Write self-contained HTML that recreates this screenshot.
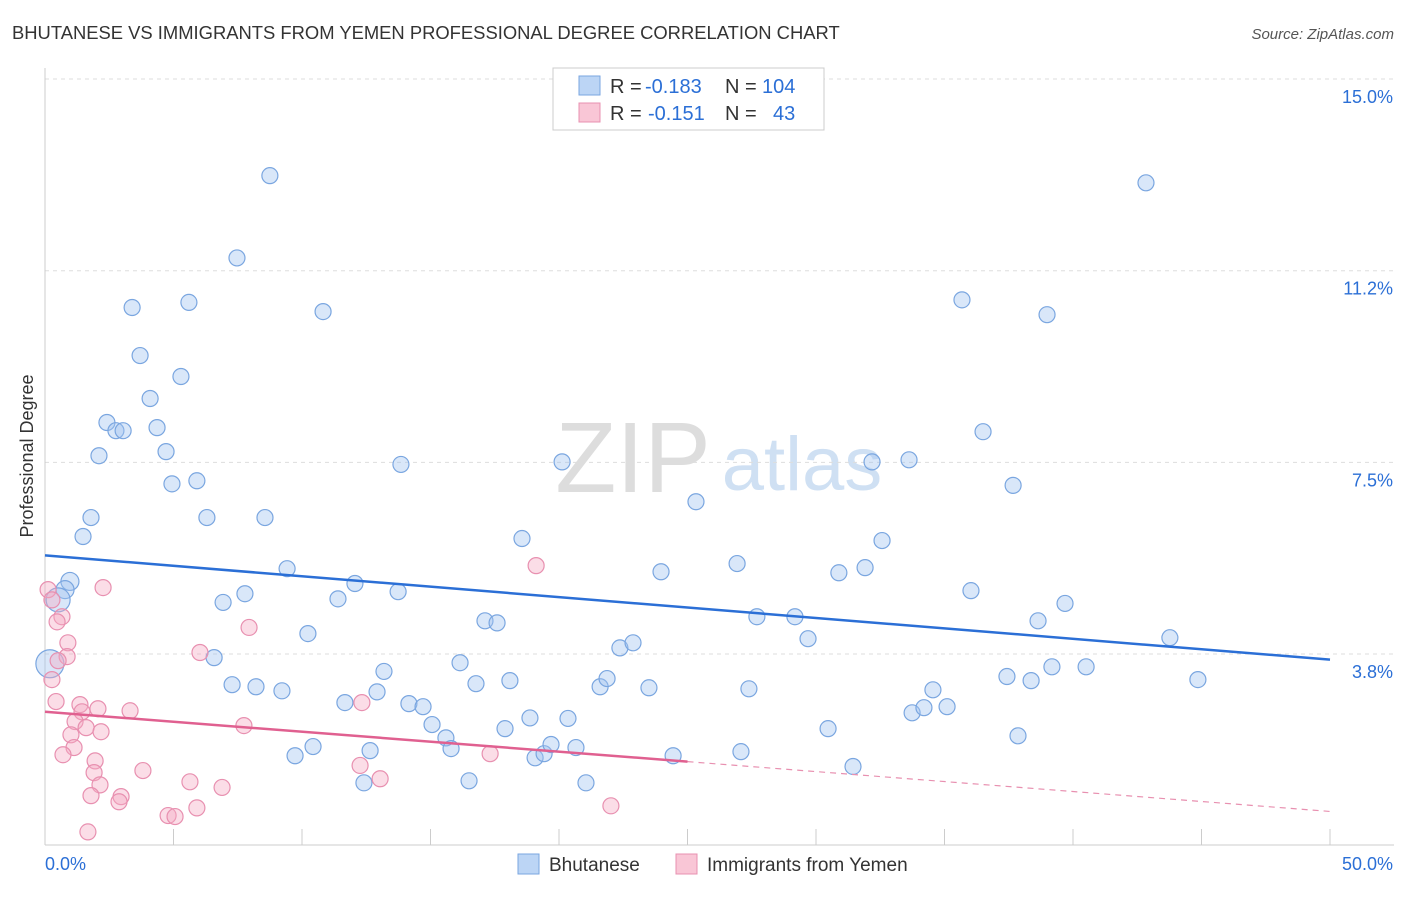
<!DOCTYPE html>
<html><head><meta charset="utf-8"><style>
body{margin:0;background:#fff;font-family:"Liberation Sans",sans-serif}
svg text{font-family:"Liberation Sans",sans-serif}
</style></head><body>
<svg id="c" width="1406" height="892" xmlns="http://www.w3.org/2000/svg">
<text x="12" y="39" font-size="18.4" fill="#333">BHUTANESE VS IMMIGRANTS FROM YEMEN PROFESSIONAL DEGREE CORRELATION CHART</text>
<text x="1394" y="39" font-size="15" fill="#555" text-anchor="end" font-style="italic">Source: ZipAtlas.com</text>
<g><text x="633" y="492" font-size="100" fill="#ddd" font-family="Liberation Serif" text-anchor="middle">ZIP</text><text x="802" y="490" font-size="76" fill="#cfe0f3" text-anchor="middle">atlas</text></g>
<g id="grid"></g><g id="axes"></g><g id="pts"></g><g id="trend"></g>
<text transform="translate(33,456) rotate(-90)" font-size="18" fill="#333" text-anchor="middle">Professional Degree</text>
<g>
<rect x="553" y="68" width="271" height="62" fill="#fff" stroke="#ccc"/>
<rect x="579" y="76" width="21" height="19" fill="#bcd5f5" stroke="#7aa6e0"/>
<rect x="579" y="103" width="21" height="19" fill="#f9c6d6" stroke="#e890b0"/>
<text x="610" y="93" font-size="20" fill="#333">R =</text>
<text x="645" y="93" font-size="20" fill="#2b6fd6">-0.183</text>
<text x="725" y="93" font-size="20" fill="#333">N =</text>
<text x="762" y="93" font-size="20" fill="#2b6fd6">104</text>
<text x="610" y="120" font-size="20" fill="#333">R =</text>
<text x="648" y="120" font-size="20" fill="#2b6fd6">-0.151</text>
<text x="725" y="120" font-size="20" fill="#333">N =</text>
<text x="773" y="120" font-size="20" fill="#2b6fd6">43</text>
</g>
<g>
<rect x="518" y="854" width="21" height="20" fill="#bcd5f5" stroke="#7aa6e0"/><text x="549" y="871" font-size="19" fill="#333">Bhutanese</text>
<rect x="676" y="854" width="21" height="20" fill="#f9c6d6" stroke="#e890b0"/><text x="707" y="871" font-size="19" fill="#333">Immigrants from Yemen</text>
</g>
</svg>
<script>
const yTicks=[15.0,11.25,7.5,3.75];
const yTickLabels=["15.0%","11.2%","7.5%","3.8%"];
const xTicks=[0,5,10,15,20,25,30,35,40,45,50];
const blueX=[8.75,7.47,3.39,5.60,10.82,3.70,5.29,4.09,2.41,2.76,3.04,4.36,2.10,4.71,4.94,5.91,1.79,1.48,6.30,8.56,13.85,20.12,9.42,7.78,6.93,12.06,11.40,13.74,10.23,6.58,7.28,8.21,9.22,9.73,10.43,11.67,12.92,13.19,12.65,12.41,14.16,14.71,15.06,15.60,15.80,16.15,16.77,16.50,17.12,17.59,18.09,17.90,18.87,19.07,19.42,19.69,20.35,20.66,21.05,18.56,21.60,21.87,22.37,22.88,23.50,23.97,24.44,25.33,26.93,27.08,27.39,27.70,29.18,29.69,30.47,30.89,31.44,31.91,32.18,32.57,33.62,33.74,34.20,34.55,35.10,35.68,36.03,36.50,37.43,37.67,37.86,38.37,38.64,38.99,39.18,39.69,40.51,42.84,43.77,44.86,0.97,0.78,0.51,0.19];
const blueY=[13.11,11.50,10.53,10.63,10.45,9.59,9.18,8.75,8.28,8.12,8.12,8.18,7.63,7.71,7.08,7.14,6.42,6.05,6.42,6.42,7.46,7.51,5.42,4.93,4.76,5.13,4.83,4.97,4.15,3.68,3.15,3.11,3.03,1.76,1.94,2.80,3.01,3.41,1.86,1.23,2.78,2.72,2.37,2.11,1.90,3.58,3.17,1.27,4.40,4.36,3.23,2.29,2.50,1.72,1.80,1.98,2.49,1.92,1.23,6.01,3.11,3.27,3.87,3.97,3.09,5.36,1.76,6.73,5.52,1.84,3.07,4.48,4.48,4.05,2.29,5.34,1.55,5.44,7.51,5.97,7.55,2.60,2.70,3.05,2.72,10.68,4.99,8.10,3.31,7.05,2.15,3.23,4.40,10.39,3.50,4.74,3.50,12.97,4.07,3.25,5.17,5.01,4.81,3.56];
const pinkX=[0.12,0.27,0.66,0.47,0.89,0.86,0.51,0.27,0.43,1.36,1.44,2.06,1.17,1.60,1.01,2.18,1.13,0.70,1.95,1.91,2.14,1.79,2.96,2.88,1.67,2.26,3.31,3.81,5.64,6.89,5.91,4.79,5.06,6.03,7.94,7.74,12.33,12.26,13.04,17.32,19.11,22.02];
const pinkY=[5.01,4.81,4.48,4.38,3.97,3.70,3.62,3.25,2.82,2.76,2.62,2.68,2.43,2.31,2.17,2.23,1.92,1.78,1.66,1.43,1.19,0.98,0.96,0.86,0.27,5.05,2.64,1.47,1.25,1.14,0.74,0.59,0.57,3.78,4.27,2.35,2.80,1.57,1.31,1.80,5.48,0.78];
const blueTrend=[5.68,3.64];
const pinkTrend=[2.62,0.67];
const pinkSolidEnd=25;
const NS="http://www.w3.org/2000/svg";
const X=v=>45+v*25.7, Y=v=>845.7-v*51.11;
function mk(p,t,a){const e=document.createElementNS(NS,t);for(const k in a)e.setAttribute(k,a[k]);document.getElementById(p).appendChild(e);return e;}
yTicks.forEach((t,i)=>{
 const g=mk('grid','line',{x1:45,x2:1394,y1:Y(t),y2:Y(t),stroke:'#ddd','stroke-dasharray':'4,4'});
 
 
 const l=mk('axes','text',{x:1393,y:Y(t)+24,'font-size':18,fill:'#2b6fd6','text-anchor':'end'});l.textContent=yTickLabels[i];
 
 
});
const ax=mk('axes','line',{x1:45,x2:1394,y1:845,y2:845,stroke:'#ccc'});


const ay=mk('axes','line',{x1:45,x2:45,y1:68,y2:845,stroke:'#ccc'});


xTicks.forEach(t=>{const e=mk('axes','line',{x1:X(t),x2:X(t),y1:829,y2:845,stroke:'#ccc'});
 
 });
const l0=mk('axes','text',{x:45,y:870,'font-size':18,fill:'#2b6fd6'});l0.textContent='0.0%';


const l1=mk('axes','text',{x:1393,y:870,'font-size':18,fill:'#2b6fd6','text-anchor':'end'});l1.textContent='50.0%';


const n=blueX.length;
blueX.forEach((v,i)=>{const r=i===n-1?14:(i===n-2?12:(i>=n-4?9:8));const c=mk('pts','circle',{cx:X(v),cy:Y(blueY[i]),r:r,fill:'rgba(160,195,240,0.4)',stroke:'#7aa6e0','stroke-width':1.2});
 
 });
pinkX.forEach((v,i)=>{const c=mk('pts','circle',{cx:X(v),cy:Y(pinkY[i]),r:8,fill:'rgba(245,170,195,0.4)',stroke:'#e890b0','stroke-width':1.2});
 
 });
const bt=mk('trend','line',{x1:X(0),y1:Y(blueTrend[0]),x2:X(50),y2:Y(blueTrend[1]),stroke:'#2b6fd6','stroke-width':2.5});


const pm=pinkTrend[0]+(pinkTrend[1]-pinkTrend[0])*pinkSolidEnd/50;
const pt=mk('trend','line',{x1:X(0),y1:Y(pinkTrend[0]),x2:X(pinkSolidEnd),y2:Y(pm),stroke:'#e06090','stroke-width':2.5});


const pd=mk('trend','line',{x1:X(pinkSolidEnd),y1:Y(pm),x2:X(50),y2:Y(pinkTrend[1]),stroke:'#e890b0','stroke-width':1.2,'stroke-dasharray':'6,5'});


</script>
</body></html>
